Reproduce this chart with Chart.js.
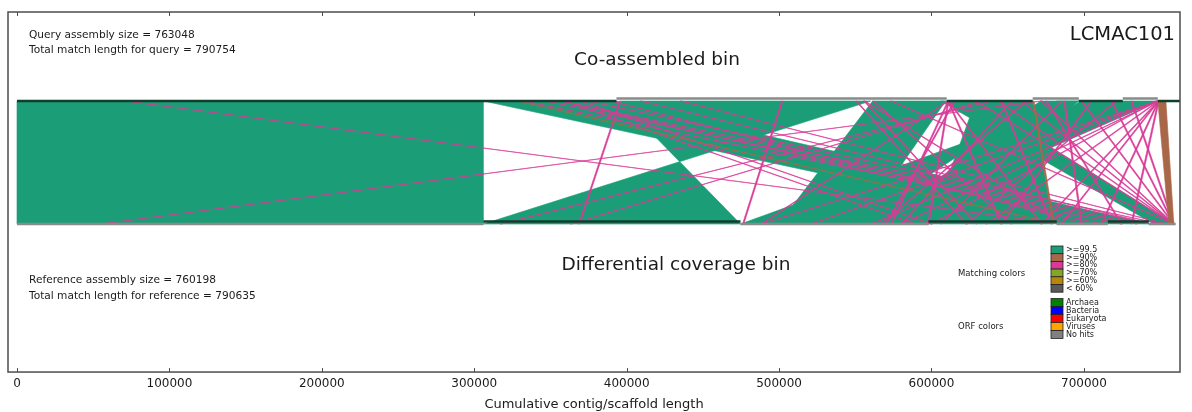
<!DOCTYPE html>
<html>
<head>
<meta charset="utf-8">
<script src="https://cdn.jsdelivr.net/npm/chart.js@4.4.0/dist/chart.umd.min.js"></script>
<style>
  html, body { margin: 0; padding: 0; background: #fff; }
</style>
</head>
<body>
<canvas id="synteny" width="1192" height="412"></canvas>
<script>
// contig ends along each assembly (cumulative bp)
const queryContigEnds = [393300, 610000, 666400, 696700, 725500, 748500, 763048];
const refContigEnds = [306000, 474700, 598000, 682200, 715700, 742600, 760198];

// aligned blocks, query start/end -> reference start/end (rEnd < rStart means reversed)
const blockQStart = [0, 306000, 395900, 561400, 629000, 606000, 720900, 671700, 682200, 698000, 328300, 666400, 748500];
const blockQEnd = [306000, 393300, 560100, 609300, 666400, 629000, 748500, 696700, 696700, 724200, 329200, 667300, 753800];
const blockRStart = [0, 682200, 474700, 499700, 599500, 745900, 534000, 550200, 558800, 566600, 682200, 679600, 755700];
const blockREnd = [306000, 742600, 306000, 553500, 679600, 759000, 564000, 474700, 598000, 599500, 683100, 680500, 759000];
const blockClass = [0, 0, 0, 0, 0, 0, 0, 0, 0, 0, 1, 1, 1];

// short hits (>=80% identity): query start -> reference start
const hitQ = [70900, 671700, 332200, 346700, 356500, 374300, 395300, 501600, 638900, 359200,
  369700, 550200, 555500, 389400, 356500, 632300, 614600, 748500, 748500, 747200,
  747200, 698000, 671700, 643500, 686800, 610600, 610600, 610600, 610600, 748500,
  748500, 748500, 730800, 717700, 748500, 658600, 561400, 573200, 645400, 675000,
  704500, 720900, 629000, 748500, 409100, 435300, 748500, 652000, 661800, 684800,
  555500, 610600];
const hitR = [684800, 54500, 724200, 734100, 743900, 750500, 368400, 476000, 317100, 589000,
  599500, 622500, 629000, 701200, 711100, 363100, 569900, 520700, 579800, 560100,
  599500, 758400, 758400, 758400, 698000, 645400, 573200, 597500, 671700, 684800,
  711100, 730800, 758400, 758400, 635600, 758400, 652000, 758400, 678300, 724200,
  645400, 622500, 758400, 671700, 743900, 753800, 487900, 579800, 566600, 606000,
  686800, 487900];
const hitLen = 900;

const matchLabels = [">=99.5", ">=90%", ">=80%", ">=70%", ">=60%", "< 60%"];
const matchColors = ["#1b9e77", "#a9674a", "#d93a97", "#80a828", "#b8860b", "#595959"];
const orfLabels = ["Archaea", "Bacteria", "Eukaryota", "Viruses", "No hits"];
const orfColors = ["#008000", "#0000ff", "#ff0000", "#ffa500", "#808080"];

const xTicks = [0, 100000, 200000, 300000, 400000, 500000, 600000, 700000];

const DARK = "#0f3f2c";
const GREY = "#8a8a8a";
const FONT = '"DejaVu Sans", sans-serif';

// contig bars: alternating dark/grey, grey ones pushed slightly outward
function contigSets(ends, y, outward, firstDark) {
  const sets = [];
  let start = 0;
  ends.forEach((end, i) => {
    const dark = (i % 2 === 0) === firstDark;
    const yy = dark ? y : y + outward;
    sets.push({
      data: [{ x: start, y: yy }, { x: end, y: yy }],
      showLine: true,
      borderColor: dark ? DARK : GREY,
      borderWidth: 2.5,
      pointRadius: 0,
    });
    start = end;
  });
  return sets;
}

const datasets = [
  ...contigSets(queryContigEnds, 1, 0.021, true),
  ...contigSets(refContigEnds, 0.021, -0.021, false),
];

const syntenyPlugin = {
  id: "synteny",
  beforeDatasetsDraw(chart) {
    const { ctx, chartArea, scales } = chart;
    const x = scales.x, y = scales.y;
    const top = y.getPixelForValue(1);
    const bot = y.getPixelForValue(0);
    ctx.save();
    ctx.beginPath();
    ctx.rect(chartArea.left, chartArea.top, chartArea.width, chartArea.height);
    ctx.clip();

    function ribbon(qs, qe, rs, re, color) {
      ctx.beginPath();
      ctx.moveTo(x.getPixelForValue(qs), top);
      ctx.lineTo(x.getPixelForValue(qe), top);
      ctx.lineTo(x.getPixelForValue(re), bot);
      ctx.lineTo(x.getPixelForValue(rs), bot);
      ctx.closePath();
      ctx.fillStyle = color;
      ctx.strokeStyle = color;
      ctx.lineWidth = 0.6;
      ctx.fill();
      ctx.stroke();
    }

    blockQStart.forEach((qs, i) => {
      if (blockClass[i] === 0)
        ribbon(qs, blockQEnd[i], blockRStart[i], blockREnd[i], matchColors[0]);
    });
    hitQ.forEach((q, i) => {
      ribbon(q, q + hitLen, hitR[i], hitR[i] + hitLen, matchColors[2]);
    });
    blockQStart.forEach((qs, i) => {
      if (blockClass[i] !== 0)
        ribbon(qs, blockQEnd[i], blockRStart[i], blockREnd[i], matchColors[blockClass[i]]);
    });
    ctx.restore();
  },
  afterDraw(chart) {
    const { ctx, chartArea, scales } = chart;
    const x = scales.x;
    ctx.save();

    // axes frame + inward ticks
    ctx.strokeStyle = "#4d4d4d";
    ctx.lineWidth = 1.5;
    ctx.strokeRect(chartArea.left, chartArea.top, chartArea.width, chartArea.height);
    ctx.lineWidth = 1;
    xTicks.forEach((v) => {
      const px = Math.round(x.getPixelForValue(v)) + 0.5;
      ctx.beginPath();
      ctx.moveTo(px, chartArea.bottom);
      ctx.lineTo(px, chartArea.bottom - 4);
      ctx.moveTo(px, chartArea.top);
      ctx.lineTo(px, chartArea.top + 4);
      ctx.stroke();
    });

    ctx.fillStyle = "#1a1a1a";
    ctx.textBaseline = "middle";
    ctx.textAlign = "left";
    ctx.font = "10.6px " + FONT;
    ctx.fillText("Query assembly size = 763048", 29, 35);
    ctx.fillText("Total match length for query = 790754", 29, 50);
    ctx.fillText("Reference assembly size = 760198", 29, 280);
    ctx.fillText("Total match length for reference = 790635", 29, 296);

    ctx.font = "18.5px " + FONT;
    ctx.textAlign = "center";
    ctx.fillText("Co-assembled bin", 657, 60);
    ctx.fillText("Differential coverage bin", 676, 265);
    ctx.textAlign = "right";
    ctx.font = "19.5px " + FONT;
    ctx.fillText("LCMAC101", 1175, 35);

    // colour keys
    ctx.textAlign = "left";
    ctx.font = "8.5px " + FONT;
    ctx.fillText("Matching colors", 958, 274);
    ctx.fillText("ORF colors", 958, 327);
    ctx.font = "8px " + FONT;
    ctx.strokeStyle = "#222";
    ctx.lineWidth = 0.8;
    matchLabels.forEach((label, i) => {
      const yy = 246 + i * 7.7;
      ctx.fillStyle = matchColors[i];
      ctx.fillRect(1051, yy, 12, 7.7);
      ctx.strokeRect(1051, yy, 12, 7.7);
      ctx.fillStyle = "#1a1a1a";
      ctx.fillText(label, 1066, yy + 4);
    });
    orfLabels.forEach((label, i) => {
      const yy = 298.5 + i * 8;
      ctx.fillStyle = orfColors[i];
      ctx.fillRect(1051, yy, 12, 8);
      ctx.strokeRect(1051, yy, 12, 8);
      ctx.fillStyle = "#1a1a1a";
      ctx.fillText(label, 1066, yy + 4);
    });
    ctx.restore();
  },
};

new Chart(document.getElementById("synteny"), {
  type: "scatter",
  data: { datasets: datasets },
  options: {
    responsive: false,
    animation: false,
    devicePixelRatio: 1,
    layout: { padding: { left: 8, right: 12, top: 12, bottom: 0 } },
    plugins: { legend: { display: false }, tooltip: { enabled: false } },
    scales: {
      x: {
        type: "linear",
        min: -5900,
        max: 763048,
        afterBuildTicks: (scale) => {
          scale.ticks = xTicks.map((v) => ({ value: v }));
        },
        ticks: {
          padding: 6,
          color: "#1a1a1a",
          font: { family: FONT, size: 12, lineHeight: 1.03 },
          callback: (v) => String(v),
        },
        grid: { display: false, drawTicks: false },
        border: { display: false },
        title: {
          display: true,
          text: "Cumulative contig/scaffold length",
          color: "#1a1a1a",
          font: { family: FONT, size: 13 },
          padding: { top: 0, bottom: 0 },
        },
      },
      y: { display: false, min: -1.203, max: 1.7236 },
    },
  },
  plugins: [syntenyPlugin],
});
</script>
</body>
</html>
